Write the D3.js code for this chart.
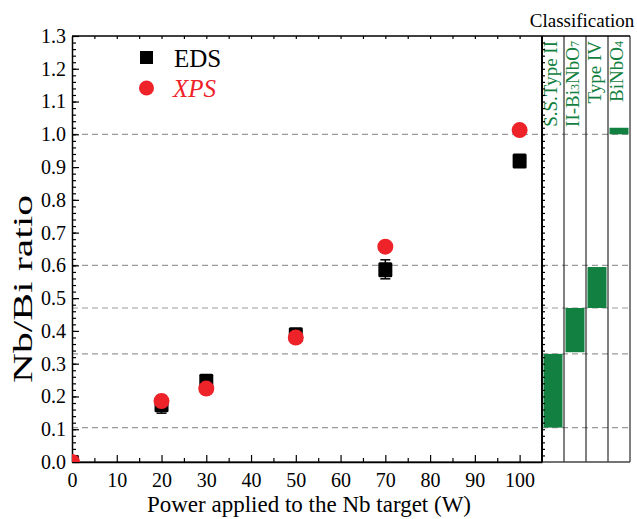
<!DOCTYPE html>
<html>
<head>
<meta charset="utf-8">
<script src="https://cdn.jsdelivr.net/npm/d3@7"></script>
<style>
  body { margin: 0; background: #fff; }
  svg, svg text { font-family: "Liberation Serif", "DejaVu Serif", serif !important; }
</style>
</head>
<body>
<svg width="637" height="519"></svg>
<script>
// measured data
const power = [0, 20, 30, 50, 70, 100];
const edsRatio = [0, 0.176, 0.248, 0.39, 0.588, 0.92];
const edsErr = [0, 0.027, 0.008, 0.006, 0.029, 0.012];
const xpsRatio = [0, 0.186, 0.224, 0.38, 0.657, 1.013];

// classification ranges
const phaseNames = ["S.S.Type II", "II-Bi3NbO7", "Type IV", "BiNbO4"];
const phaseLow = [0.105, 0.335, 0.47, 1.0];
const phaseHigh = [0.33, 0.47, 0.595, 1.02];
const refLines = [0.105, 0.33, 0.47, 0.6, 1.0];

const xTicks = [0, 10, 20, 30, 40, 50, 60, 70, 80, 90, 100];
const yTicks = d3.range(0, 1.31, 0.1);

const margin = {top: 36, left: 72, bottom: 57};
const W = 637, H = 519;
const plotRight = 542, panelRight = 630;
const h = H - margin.top - margin.bottom;
const green = "#128040";
const serif = "'Liberation Serif', 'DejaVu Serif', serif";

const svg = d3.select("svg").style("font-family", serif);

const x = d3.scaleLinear().domain([0, 105]).range([margin.left, plotRight]);
const y = d3.scaleLinear().domain([0, 1.3]).range([margin.top + h, margin.top]);

// classification columns
const col = d3.scaleBand().domain(phaseNames).range([plotRight, panelRight]);

svg.append("defs").append("clipPath").attr("id", "clip")
  .append("rect")
  .attr("x", margin.left).attr("y", margin.top)
  .attr("width", plotRight - margin.left).attr("height", h);

// dashed reference lines
svg.append("g").selectAll("line")
  .data(refLines).join("line")
  .attr("x1", margin.left).attr("x2", panelRight)
  .attr("y1", d => y(d)).attr("y2", d => y(d))
  .attr("stroke", "#999").attr("stroke-width", 1.2)
  .attr("stroke-dasharray", "6,4");

// phase bars
svg.append("g").selectAll("rect")
  .data(phaseNames).join("rect")
  .attr("x", d => col(d) + 1.5)
  .attr("width", col.bandwidth() - 3)
  .attr("y", (d, i) => y(phaseHigh[i]))
  .attr("height", (d, i) => y(phaseLow[i]) - y(phaseHigh[i]))
  .attr("fill", green);

// column separators
svg.append("g").selectAll("line")
  .data(phaseNames.slice(1).concat(["end"])).join("line")
  .attr("x1", (d, i) => i < 3 ? col(d) : panelRight)
  .attr("x2", (d, i) => i < 3 ? col(d) : panelRight)
  .attr("y1", margin.top).attr("y2", margin.top + h)
  .attr("stroke", "#000").attr("stroke-width", 1);

// phase labels (rotated)
const labels = svg.append("g").selectAll("text")
  .data(phaseNames).join("text")
  .attr("transform", d => `translate(${col(d) + col.bandwidth() / 2 + 4},${margin.top + 5}) rotate(-90)`)
  .attr("text-anchor", "end")
  .attr("fill", green)
  .style("font-family", serif)
  .attr("font-size", 19);
labels.each(function(d) {
  const t = d3.select(this);
  if (d === "II-Bi3NbO7") {
    t.append("tspan").text("II-Bi");
    t.append("tspan").attr("font-size", 12).text("3");
    t.append("tspan").text("NbO");
    t.append("tspan").attr("font-size", 12).text("7");
  } else if (d === "BiNbO4") {
    t.append("tspan").text("BiNbO");
    t.append("tspan").attr("font-size", 12).text("4");
  } else {
    t.text(d);
  }
});

svg.append("text")
  .attr("x", 582).attr("y", 27)
  .attr("text-anchor", "middle").attr("font-size", 19)
  .style("font-family", serif)
  .text("Classification");

// frame lines
svg.append("line").attr("x1", margin.left).attr("x2", panelRight)
  .attr("y1", margin.top).attr("y2", margin.top).attr("stroke", "#000").attr("stroke-width", 1.5);
svg.append("line").attr("x1", margin.left).attr("x2", panelRight)
  .attr("y1", margin.top + h).attr("y2", margin.top + h).attr("stroke", "#444").attr("stroke-width", 1.5);

// axes
function styleAxis(g) {
  g.attr("font-family", null);
  g.selectAll(".domain").attr("stroke", "#000").attr("stroke-width", 1.5);
  g.selectAll(".tick line").attr("stroke", "#000").attr("stroke-width", 1.2);
  g.selectAll("text").style("font-family", serif).attr("font-size", 20).attr("fill", "#000");
}

// minor ticks first
svg.append("g").attr("transform", `translate(0,${margin.top + h})`)
  .call(d3.axisBottom(x).tickValues(d3.range(5, 105, 10)).tickSize(-4).tickFormat("").tickSizeOuter(0))
  .call(styleAxis).call(g => g.select(".domain").remove());
svg.append("g").attr("transform", `translate(0,${margin.top})`)
  .call(d3.axisTop(x).tickValues(d3.range(5, 105, 5)).tickSize(-3).tickFormat("").tickSizeOuter(0))
  .call(styleAxis).call(g => g.select(".domain").remove());
svg.append("g").attr("transform", `translate(${margin.left},0)`)
  .call(d3.axisLeft(y).tickValues(d3.range(0.02, 1.3, 0.02)).tickSize(-4).tickFormat("").tickSizeOuter(0))
  .call(styleAxis).call(g => g.select(".domain").remove());
svg.append("g").attr("transform", `translate(${plotRight},0)`)
  .call(d3.axisLeft(y).tickValues(d3.range(0.02, 1.3, 0.02)).tickSize(-3).tickFormat("").tickSizeOuter(0))
  .call(styleAxis).call(g => g.select(".domain").remove());

svg.append("g").attr("transform", `translate(0,${margin.top + h})`)
  .call(d3.axisBottom(x).tickValues(xTicks).tickSize(-7).tickPadding(11).tickSizeOuter(0))
  .call(styleAxis);
svg.append("g").attr("transform", `translate(${margin.left},0)`)
  .call(d3.axisLeft(y).tickValues(yTicks).tickSize(-7).tickPadding(6).tickSizeOuter(0).tickFormat(d3.format(".1f")))
  .call(styleAxis);
svg.append("line").attr("x1", plotRight).attr("x2", plotRight)
  .attr("y1", margin.top).attr("y2", margin.top + h)
  .attr("stroke", "#000").attr("stroke-width", 2);

// axis titles
svg.append("text")
  .attr("transform", "translate(32,289) rotate(-90)")
  .attr("text-anchor", "middle").attr("font-size", 28)
  .attr("textLength", 188).attr("lengthAdjust", "spacingAndGlyphs")
  .style("font-family", serif)
  .text("Nb/Bi ratio");
svg.append("text")
  .attr("x", 309).attr("y", 512)
  .attr("text-anchor", "middle").attr("font-size", 23)
  .style("font-family", serif)
  .text("Power applied to the Nb target (W)");

// data
const pts = svg.append("g").attr("clip-path", "url(#clip)");
const err = pts.append("g").attr("stroke", "#000").attr("stroke-width", 1.5);
power.forEach((p, i) => {
  if (!edsErr[i]) return;
  const lo = y(edsRatio[i] - edsErr[i]), hi = y(edsRatio[i] + edsErr[i]);
  err.append("line").attr("x1", x(p)).attr("x2", x(p)).attr("y1", lo).attr("y2", hi);
  err.append("line").attr("x1", x(p) - 5).attr("x2", x(p) + 5).attr("y1", lo).attr("y2", lo);
  err.append("line").attr("x1", x(p) - 5).attr("x2", x(p) + 5).attr("y1", hi).attr("y2", hi);
});
pts.append("g").selectAll("rect")
  .data(power).join("rect")
  .attr("x", d => x(d) - 7).attr("y", (d, i) => y(edsRatio[i]) - 7)
  .attr("width", 14).attr("height", 15).attr("rx", 1.5)
  .attr("fill", "#000");
pts.append("g").selectAll("circle")
  .data(power).join("circle")
  .attr("cx", d => x(d)).attr("cy", (d, i) => y(xpsRatio[i]))
  .attr("r", 8).attr("fill", "#ee2229");

// legend
const leg = svg.append("g").style("font-family", serif);
leg.append("rect").attr("x", 140).attr("y", 51).attr("width", 13).attr("height", 13).attr("fill", "#000");
leg.append("text").attr("x", 174).attr("y", 67).attr("font-size", 25).text("EDS");
leg.append("circle").attr("cx", 146.5).attr("cy", 88).attr("r", 7.5).attr("fill", "#ee2229");
leg.append("text").attr("x", 173).attr("y", 97).attr("font-size", 25)
  .attr("font-style", "italic").attr("fill", "#ee2229").text("XPS");
</script>
</body>
</html>
